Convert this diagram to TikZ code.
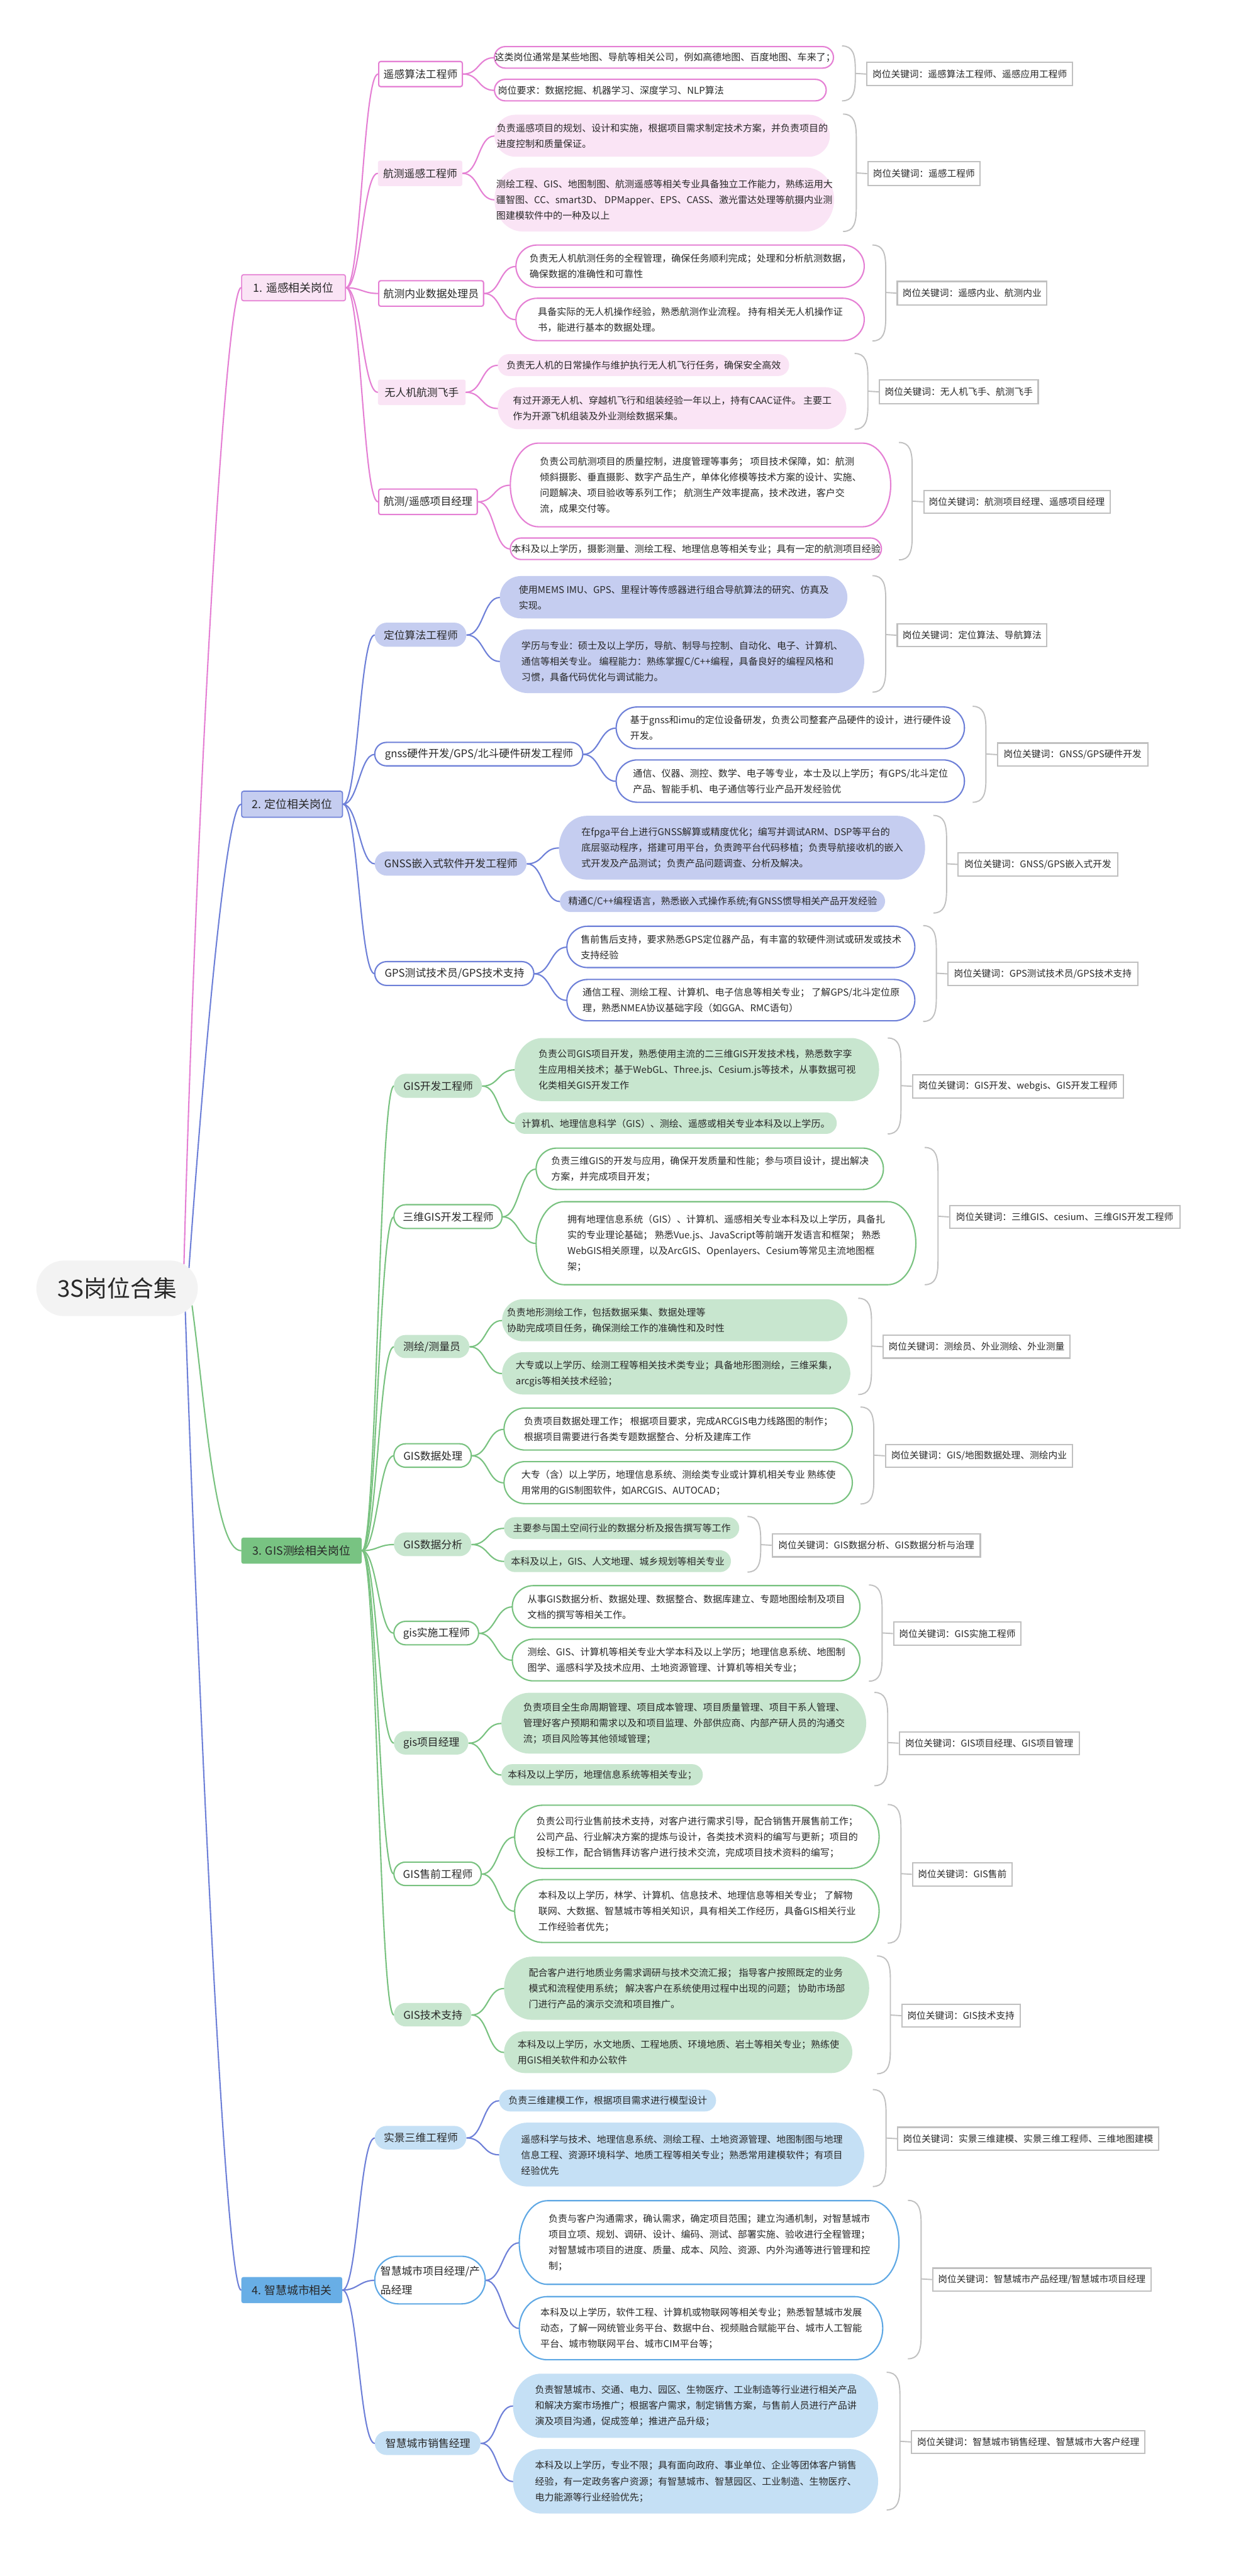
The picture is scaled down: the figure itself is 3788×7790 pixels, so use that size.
\documentclass[tikz,border=0pt]{standalone}
\usepackage{fontspec}
\setmainfont{Noto Sans CJK SC}
\usetikzlibrary{calc,shapes.misc}
\pgfdeclarelayer{bg}
\pgfsetlayers{bg,main}
\definecolor{pinkl}{RGB}{229,128,212}
\definecolor{pinkf}{RGB}{250,228,245}
\definecolor{bluel}{RGB}{110,128,216}
\definecolor{bluef}{RGB}{197,205,240}
\definecolor{greenl}{RGB}{121,194,128}
\definecolor{greenf}{RGB}{200,230,207}
\definecolor{greenc}{RGB}{120,195,130}
\definecolor{skyl}{RGB}{95,168,228}
\definecolor{skyf}{RGB}{197,224,245}
\definecolor{skyc}{RGB}{104,174,230}
\definecolor{grayl}{RGB}{192,192,192}
\definecolor{rootf}{RGB}{243,243,243}
\definecolor{txt}{RGB}{40,40,40}
\tikzset{
 conn/.style={line width=1pt, line cap=round},
 dtext/.style={font=\fontsize{7.15}{11.9}\selectfont, text=txt, align=left, inner sep=0pt},
 ltext/.style={font=\fontsize{8}{10}\selectfont, text=txt, align=left, inner sep=0pt},
 ctext/.style={font=\fontsize{8.5}{10}\selectfont, text=txt, align=center, inner sep=0pt},
 kwtext/.style={font=\fontsize{7}{9}\selectfont, text=txt, inner sep=0pt},
 stpw/.style={draw=pinkl, line width=1pt, fill=white},
 stpf/.style={fill=pinkf},
 stbw/.style={draw=bluel, line width=1pt, fill=white},
 stbf/.style={fill=bluef},
 stgw/.style={draw=greenl, line width=1pt, fill=white},
 stgf/.style={fill=greenf},
 stsw/.style={draw=skyl, line width=1pt, fill=white},
 stsf/.style={fill=skyf},
 stc1/.style={draw=pinkl, line width=0.8pt, fill=pinkf},
 stc2/.style={draw=bluel, line width=0.8pt, fill=bluef},
 stc3/.style={fill=greenc},
 stc4/.style={fill=skyc},
 kwframe/.style={draw=grayl, line width=1pt, fill=white},
 bracel/.style={draw=grayl, line width=0.9pt},
 rootnode/.style={shape=rounded rectangle, fill=rootf, minimum width=122pt, minimum height=42pt, inner sep=0pt, font=\fontsize{17.5}{20}\selectfont, text=txt},
}
% pill shape with elliptical ends: style, x1, y1, x2, y2, rx
\newcommand\pillshape[6]{%
 \pgfmathsetmacro\pym{(#3+#5)/2}%
 \pgfmathsetmacro\pry{(#5-#3)/2}%
 \pgfmathsetmacro\prx{min(#6,\pry)}%
 \pgfmathsetmacro\pxl{#2+\prx}%
 \pgfmathsetmacro\pxr{#4-\prx}%
 \pgfmathsetmacro\pkx{0.5523*\prx}%
 \pgfmathsetmacro\pky{0.5523*\pry}%
 \path[#1] (\pxl,#3) -- (\pxr,#3) .. controls (\pxr+\pkx,#3) and (#4,\pym-\pky) .. (#4,\pym) .. controls (#4,\pym+\pky) and (\pxr+\pkx,#5) .. (\pxr,#5) -- (\pxl,#5) .. controls (\pxl-\pkx,#5) and (#2,\pym+\pky) .. (#2,\pym) .. controls (#2,\pym-\pky) and (\pxl-\pkx,#3) .. (\pxl,#3) -- cycle;%
}
% detail box: [opts]{name}{style}{x1}{y1}{x2}{y2}{text}
\newcommand\dbox[8][]{%
 \pillshape{#3}{#4}{#5}{#6}{#7}{85}%
 \pgfmathsetmacro\mybw{(#6-#4)*0.25}\pgfmathsetmacro\mybh{(#7-#5)*0.25}%
 \node[dtext, anchor=north west, minimum width=\mybw pt, minimum height=\mybh pt, #1] (#2) at (#4,#5) {#8};%
}
\newcommand\ptwo[8][]{%
 \pillshape{#3}{#4}{#5}{#6}{#7}{85}%
 \pgfmathsetmacro\mybw{(#6-#4)*0.25}\pgfmathsetmacro\mybh{(#7-#5)*0.25}%
 \node[ltext, anchor=north west, minimum width=\mybw pt, minimum height=\mybh pt, #1] (#2) at (#4,#5) {#8};%
}
\newcommand\rtwo[8][]{%
 \pgfmathsetmacro\mybw{(#6-#4)*0.25}\pgfmathsetmacro\mybh{(#7-#5)*0.25}%
 \node[#3, ltext, rounded corners=1.5pt, anchor=north west, minimum width=\mybw pt, minimum height=\mybh pt, #1] (#2) at (#4,#5) {#8};%
}
\newcommand\catbox[7]{%
 \pgfmathsetmacro\mybw{(#5-#3)*0.25}\pgfmathsetmacro\mybh{(#6-#4)*0.25}%
 \node[#2, ctext, rounded corners=1.5pt, anchor=north west, minimum width=\mybw pt, minimum height=\mybh pt] (#1) at (#3,#4) {#7};%
}
% keyword: name x1 y1 x2 y2 bracetop bracebottom text
\newcommand\kwnode[8]{%
 \pgfmathsetmacro\mybw{(#4-#2)*0.25}\pgfmathsetmacro\mybh{(#5-#3)*0.25}%
 \pgfmathsetmacro\kv{#2-33}\pgfmathsetmacro\kx{#2-73}%
 \pgfmathsetmacro\km{(#3+#5)/2}%
 \draw[bracel] (\kx,#6) .. controls (\kv-8,#6) and (\kv,#6+25) .. (\kv,#6+70) -- (\kv,#7-70) .. controls (\kv,#7-25) and (\kv-8,#7) .. (\kx,#7);%
 \node[kwframe, kwtext, anchor=north west, minimum width=\mybw pt, minimum height=\mybh pt] (#1) at (#2,#3) {#8};%
 \coordinate (#1b) at (\kv,\km);%
 \draw[bracel] (#1b) -- (#1.west);%
}
\begin{document}
\begin{tikzpicture}[x=0.25pt,y=-0.25pt]
\useasboundingbox (0,0) rectangle (3788,7790);
\begin{pgfonlayer}{bg}\fill[white] (0,0) rectangle (3788,7790);\end{pgfonlayer}

% root
\node[rootnode] (root) at (354,3896) {3S岗位合集};

% categories
\catbox{c1}{stc1}{729}{829}{1043}{908}{1. 遥感相关岗位}
\catbox{c2}{stc2}{729}{2391}{1034}{2470}{2. 定位相关岗位}
\catbox{c3}{stc3}{729}{4649}{1093}{4728}{3. GIS测绘相关岗位}
\catbox{c4}{stc4}{729}{6885}{1034}{6964}{4. 智慧城市相关}

% level 2 - remote sensing
\rtwo{pa}{stpw}{1143}{184}{1396}{260}{遥感算法工程师}
\rtwo{pb}{stpf}{1142}{485}{1397}{562}{航测遥感工程师}
\rtwo{pc}{stpw}{1143}{847}{1460}{924}{航测内业数据处理员}
\rtwo{pd}{stpf}{1142}{1147}{1407}{1224}{无人机航测飞手}
\rtwo{pe}{stpw}{1143}{1477}{1441}{1554}{航测/遥感项目经理}
% level 2 - positioning
\ptwo{pf}{stbf}{1133}{1883}{1410}{1956}{定位算法工程师}
\ptwo{pg}{stbw}{1133}{2245}{1762}{2316}{gnss硬件开发/GPS/北斗硬件研发工程师}
\ptwo{ph}{stbf}{1133}{2575}{1592}{2648}{GNSS嵌入式软件开发工程师}
\ptwo{pi}{stbw}{1133}{2908}{1614}{2980}{GPS测试技术员/GPS技术支持}
% level 2 - GIS
\ptwo{pj}{stgf}{1191}{3247}{1457}{3320}{GIS开发工程师}
\ptwo{pk}{stgw}{1191}{3643}{1518}{3715}{三维GIS开发工程师}
\ptwo{pl}{stgf}{1191}{4037}{1419}{4107}{测绘/测量员}
\ptwo{pm}{stgw}{1191}{4366}{1425}{4437}{GIS数据处理}
\ptwo{pn}{stgf}{1191}{4634}{1425}{4706}{GIS数据分析}
\ptwo{po}{stgw}{1191}{4903}{1447}{4974}{gis实施工程师}
\ptwo{pp}{stgf}{1191}{5235}{1416}{5306}{gis项目经理}
\ptwo{pq}{stgw}{1191}{5631}{1455}{5702}{GIS售前工程师}
\ptwo{pr}{stgf}{1191}{6057}{1425}{6128}{GIS技术支持}
% level 2 - smart city
\ptwo{ps}{stsf}{1133}{6429}{1410}{6500}{实景三维工程师}
\ptwo[font=\fontsize{8}{14.5}\selectfont]{pt}{stsw}{1133}{6823}{1467}{6967}{智慧城市项目经理/产\\品经理}
\ptwo{pu}{stsf}{1133}{7352}{1453}{7424}{智慧城市销售经理}

% level 3 details
\dbox{a1}{stpw}{1495}{141}{2520}{206}{这类岗位通常是某些地图、导航等相关公司，例如高德地图、百度地图、车来了；}
\dbox[text width=246pt]{a2}{stpw}{1495}{240}{2498}{305}{岗位要求：数据挖掘、机器学习、深度学习、NLP算法}
\dbox{b1}{stpf}{1495}{347}{2509}{474}{负责遥感项目的规划、设计和实施，根据项目需求制定技术方案，并负责项目的\\进度控制和质量保证。}
\dbox{b2}{stpf}{1495}{507}{2522}{700}{测绘工程、GIS、地图制图、航测遥感等相关专业具备独立工作能力，熟练运用大\\疆智图、CC、smart3D、 DPMapper、EPS、CASS、激光雷达处理等航摄内业测\\图建模软件中的一种及以上}
\dbox{c1d}{stpw}{1560}{741}{2613}{869}{负责无人机航测任务的全程管理，确保任务顺利完成；处理和分析航测数据，\\确保数据的准确性和可靠性}
\dbox{c2d}{stpw}{1560}{902}{2613}{1030}{具备实际的无人机操作经验，熟悉航测作业流程。 持有相关无人机操作证\\书，能进行基本的数据处理。}
\dbox{d1}{stpf}{1505}{1071}{2386}{1137}{负责无人机的日常操作与维护执行无人机飞行任务，确保安全高效}
\dbox{d2}{stpf}{1505}{1171}{2559}{1298}{有过开源无人机、穿越机飞行和组装经验一年以上，持有CAAC证件。 主要工\\作为开源飞机组装及外业测绘数据采集。}
\dbox{e1}{stpw}{1543}{1340}{2693}{1593}{负责公司航测项目的质量控制，进度管理等事务； 项目技术保障，如：航测\\倾斜摄影、垂直摄影、数字产品生产，单体化修模等技术方案的设计、实施、\\问题解决、项目验收等系列工作； 航测生产效率提高，技术改进，客户交\\流，成果交付等。}
\dbox{e2}{stpw}{1543}{1627}{2665}{1692}{本科及以上学历，摄影测量、测绘工程、地理信息等相关专业；具有一定的航测项目经验}

\dbox{f1}{stbf}{1511}{1742}{2562}{1870}{使用MEMS IMU、GPS、里程计等传感器进行组合导航算法的研究、仿真及\\实现。}
\dbox{f2}{stbf}{1511}{1903}{2613}{2096}{学历与专业：硕士及以上学历，导航、制导与控制、自动化、电子、计算机、\\通信等相关专业。 编程能力：熟练掌握C/C++编程，具备良好的编程风格和\\习惯，具备代码优化与调试能力。}
\dbox{g1}{stbw}{1863}{2138}{2916}{2264}{基于gnss和imu的定位设备研发，负责公司整套产品硬件的设计，进行硬件设\\开发。}
\dbox{g2}{stbw}{1863}{2298}{2916}{2426}{通信、仪器、测控、数学、电子等专业，本士及以上学历；有GPS/北斗定位\\产品、智能手机、电子通信等行业产品开发经验优}
\dbox{h1}{stbf}{1690}{2467}{2797}{2660}{在fpga平台上进行GNSS解算或精度优化；编写并调试ARM、DSP等平台的\\底层驱动程序，搭建可用平台，负责跨平台代码移植；负责导航接收机的嵌入\\式开发及产品测试；负责产品问题调查、分析及解决。}
\dbox{h2}{stbf}{1693}{2693}{2676}{2758}{精通C/C++编程语言，熟悉嵌入式操作系统;有GNSS惯导相关产品开发经验}
\dbox{i1}{stbw}{1714}{2801}{2766}{2926}{售前售后支持，要求熟悉GPS定位器产品，有丰富的软硬件测试或研发或技术\\支持经验}
\dbox{i2}{stbw}{1714}{2962}{2766}{3087}{通信工程、测绘工程、计算机、电子信息等相关专业； 了解GPS/北斗定位原\\理，熟悉NMEA协议基础字段（如GGA、RMC语句）}

\dbox{j1}{stgf}{1556}{3139}{2658}{3330}{负责公司GIS项目开发，熟悉使用主流的二三维GIS开发技术栈，熟悉数字孪\\生应用相关技术；基于WebGL、Three.js、Cesium.js等技术，从事数据可视\\化类相关GIS开发工作}
\dbox{j2}{stgf}{1556}{3364}{2530}{3429}{计算机、地理信息科学（GIS）、测绘、遥感或相关专业本科及以上学历。}
\dbox{k1}{stgw}{1621}{3472}{2671}{3597}{负责三维GIS的开发与应用，确保开发质量和性能；参与项目设计，提出解决\\方案，并完成项目开发；}
\dbox{k2}{stgw}{1621}{3634}{2769}{3885}{拥有地理信息系统（GIS）、计算机、遥感相关专业本科及以上学历，具备扎\\实的专业理论基础； 熟悉Vue.js、JavaScript等前端开发语言和框架； 熟悉\\WebGIS相关原理，以及ArcGIS、Openlayers、Cesium等常见主流地图框\\架；}
\dbox[text width=254pt]{l1}{stgf}{1518}{3929}{2562}{4056}{负责地形测绘工作，包括数据采集、数据处理等\\协助完成项目任务，确保测绘工作的准确性和及时性}
\dbox{l2}{stgf}{1518}{4089}{2571}{4217}{大专或以上学历、绘测工程等相关技术类专业；具备地形图测绘，三维采集，\\arcgis等相关技术经验；}
\dbox{m1}{stgw}{1524}{4258}{2577}{4385}{负责项目数据处理工作； 根据项目要求，完成ARCGIS电力线路图的制作；\\根据项目需要进行各类专题数据整合、分析及建库工作}
\dbox{m2}{stgw}{1524}{4420}{2577}{4547}{大专（含）以上学历，地理信息系统、测绘类专业或计算机相关专业 熟练使\\用常用的GIS制图软件，如ARCGIS、AUTOCAD；}
\dbox{n1}{stgf}{1524}{4588}{2235}{4654}{主要参与国土空间行业的数据分析及报告撰写等工作}
\dbox{n2}{stgf}{1524}{4688}{2210}{4754}{本科及以上，GIS、人文地理、城乡规划等相关专业}
\dbox{o1}{stgw}{1549}{4795}{2600}{4922}{从事GIS数据分析、数据处理、数据整合、数据库建立、专题地图绘制及项目\\文档的撰写等相关工作。}
\dbox{o2}{stgw}{1549}{4957}{2600}{5083}{测绘、GIS、计算机等相关专业大学本科及以上学历；地理信息系统、地图制\\图学、遥感科学及技术应用、土地资源管理、计算机等相关专业；}
\dbox{p1}{stgf}{1516}{5119}{2619}{5303}{负责项目全生命周期管理、项目成本管理、项目质量管理、项目干系人管理、\\管理好客户预期和需求以及和项目监理、外部供应商、内部产研人员的沟通交\\流；项目风险等其他领域管理；}
\dbox{p2}{stgf}{1516}{5335}{2125}{5399}{本科及以上学历，地理信息系统等相关专业；}
\dbox{q1}{stgw}{1556}{5459}{2658}{5650}{负责公司行业售前技术支持，对客户进行需求引导，配合销售开展售前工作；\\公司产品、行业解决方案的提炼与设计，各类技术资料的编写与更新；项目的\\投标工作，配合销售拜访客户进行技术交流，完成项目技术资料的编写；}
\dbox{q2}{stgw}{1556}{5684}{2658}{5874}{本科及以上学历，林学、计算机、信息技术、地理信息等相关专业； 了解物\\联网、大数据、智慧城市等相关知识，具有相关工作经历，具备GIS相关行业\\工作经验者优先；}
\dbox{r1}{stgf}{1524}{5917}{2628}{6108}{配合客户进行地质业务需求调研与技术交流汇报； 指导客户按照既定的业务\\模式和流程使用系统； 解决客户在系统使用过程中出现的问题； 协助市场部\\门进行产品的演示交流和项目推广。}
\dbox{r2}{stgf}{1524}{6143}{2577}{6269}{本科及以上学历，水文地质、工程地质、环境地质、岩土等相关专业；熟练使\\用GIS相关软件和办公软件}

\dbox{s1}{stsf}{1509}{6319}{2165}{6385}{负责三维建模工作，根据项目需求进行模型设计}
\dbox{s2}{stsf}{1509}{6419}{2613}{6612}{遥感科学与技术、地理信息系统、测绘工程、土地资源管理、地图制图与地理\\信息工程、资源环境科学、地质工程等相关专业；熟悉常用建模软件；有项目\\经验优先}
\dbox{t1}{stsw}{1570}{6655}{2718}{6908}{负责与客户沟通需求，确认需求，确定项目范围；建立沟通机制，对智慧城市\\项目立项、规划、调研、设计、编码、测试、部署实施、验收进行全程管理；\\对智慧城市项目的进度、质量、成本、风险、资源、内外沟通等进行管理和控\\制；}
\dbox{t2}{stsw}{1570}{6945}{2669}{7136}{本科及以上学历，软件工程、计算机或物联网等相关专业；熟悉智慧城市发展\\动态，了解一网统管业务平台、数据中台、视频融合赋能平台、城市人工智能\\平台、城市物联网平台、城市CIM平台等；}
\dbox{u1}{stsf}{1551}{7178}{2655}{7372}{负责智慧城市、交通、电力、园区、生物医疗、工业制造等行业进行相关产品\\和解决方案市场推广；根据客户需求，制定销售方案，与售前人员进行产品讲\\演及项目沟通，促成签单；推进产品升级；}
\dbox{u2}{stsf}{1551}{7406}{2655}{7601}{本科及以上学历，专业不限；具有面向政府、事业单位、企业等团体客户销售\\经验，有一定政务客户资源；有智慧城市、智慧园区、工业制造、生物医疗、\\电力能源等行业经验优先；}

% keywords with braces
\kwnode{ka}{2619}{187}{3241}{257}{139}{305}{岗位关键词：遥感算法工程师、遥感应用工程师}
\kwnode{kb}{2622}{487}{2961}{559}{345}{700}{岗位关键词：遥感工程师}
\kwnode{kc}{2711}{849}{3163}{920}{741}{1031}{岗位关键词：遥感内业、航测内业}
\kwnode{kd}{2657}{1147}{3137}{1219}{1069}{1298}{岗位关键词：无人机飞手、航测飞手}
\kwnode{ke}{2791}{1481}{3354}{1550}{1338}{1693}{岗位关键词：航测项目经理、遥感项目经理}
\kwnode{kf}{2711}{1885}{3163}{1953}{1741}{2093}{岗位关键词：定位算法、导航算法}
\kwnode{kg}{3014}{2245}{3468}{2315}{2136}{2426}{岗位关键词：GNSS/GPS硬件开发}
\kwnode{kh}{2895}{2577}{3377}{2647}{2466}{2761}{岗位关键词：GNSS/GPS嵌入式开发}
\kwnode{ki}{2864}{2908}{3438}{2978}{2799}{3089}{岗位关键词：GPS测试技术员/GPS技术支持}
\kwnode{kj}{2757}{3248}{3395}{3318}{3139}{3429}{岗位关键词：GIS开发、webgis、GIS开发工程师}
\kwnode{kk}{2869}{3643}{3565}{3713}{3470}{3885}{岗位关键词：三维GIS、cesium、三维GIS开发工程师}
\kwnode{kl}{2668}{4036}{3233}{4105}{3926}{4217}{岗位关键词：测绘员、外业测绘、外业测量}
\kwnode{km}{2675}{4366}{3241}{4435}{4255}{4548}{岗位关键词：GIS/地图数据处理、测绘内业}
\kwnode{kn}{2333}{4636}{2962}{4706}{4586}{4754}{岗位关键词：GIS数据分析、GIS数据分析与治理}
\kwnode{ko}{2700}{4903}{3085}{4973}{4793}{5084}{岗位关键词：GIS实施工程师}
\kwnode{kp}{2717}{5235}{3261}{5304}{5118}{5400}{岗位关键词：GIS项目经理、GIS项目管理}
\kwnode{kq}{2757}{5631}{3058}{5701}{5457}{5876}{岗位关键词：GIS售前}
\kwnode{kr}{2725}{6059}{3082}{6128}{5915}{6271}{岗位关键词：GIS技术支持}
\kwnode{ks}{2712}{6431}{3501}{6500}{6319}{6612}{岗位关键词：实景三维建模、实景三维工程师、三维地图建模}
\kwnode{kt}{2818}{6857}{3478}{6926}{6654}{7133}{岗位关键词：智慧城市产品经理/智慧城市项目经理}
\kwnode{ku}{2754}{7348}{3460}{7417}{7174}{7590}{岗位关键词：智慧城市销售经理、智慧城市大客户经理}

% connectors
\begin{pgfonlayer}{bg}
\draw[conn,pinkl] (root.20) .. controls +(35,-1320) and +(-50,0) .. (c1.west);
\draw[conn,bluel] (root.16) .. controls +(35,-490) and +(-50,0) .. (c2.west);
\draw[conn,greenl] (root.-13) .. controls +(40,300) and +(-80,0) .. (c3.west);
\draw[conn,bluel] (root.-19) .. controls +(35,1035) and +(-50,0) .. (c4.west);
\foreach \t in {pa,pb,pc,pd,pe}
  \draw[conn,pinkl] (c1.east) .. controls +(45,0) and +(-45,0) .. (\t.west);
\foreach \t in {pf,pg,ph,pi}
  \draw[conn,bluel] (c2.east) .. controls +(45,0) and +(-45,0) .. (\t.west);
\foreach \t in {pj,pk,pl,pm,pn,po,pp,pq,pr}
  \draw[conn,greenl] (c3.east) .. controls +(45,0) and +(-45,0) .. (\t.west);
\foreach \t in {ps,pt,pu}
  \draw[conn,bluel] (c4.east) .. controls +(45,0) and +(-45,0) .. (\t.west);
\foreach \a/\b in {pa/a1,pa/a2,pb/b1,pb/b2,pc/c1d,pc/c2d,pd/d1,pd/d2,pe/e1,pe/e2}
  \draw[conn,pinkl] (\a.east) .. controls +(50,0) and +(-50,0) .. (\b.west);
\foreach \a/\b in {pf/f1,pf/f2,pg/g1,pg/g2,ph/h1,ph/h2,pi/i1,pi/i2,ps/s1,ps/s2,pt/t1,pt/t2,pu/u1,pu/u2}
  \draw[conn,bluel] (\a.east) .. controls +(50,0) and +(-50,0) .. (\b.west);
\foreach \a/\b in {pj/j1,pj/j2,pk/k1,pk/k2,pl/l1,pl/l2,pm/m1,pm/m2,pn/n1,pn/n2,po/o1,po/o2,pp/p1,pp/p2,pq/q1,pq/q2,pr/r1,pr/r2}
  \draw[conn,greenl] (\a.east) .. controls +(50,0) and +(-50,0) .. (\b.west);
\end{pgfonlayer}
\end{tikzpicture}
\end{document}
